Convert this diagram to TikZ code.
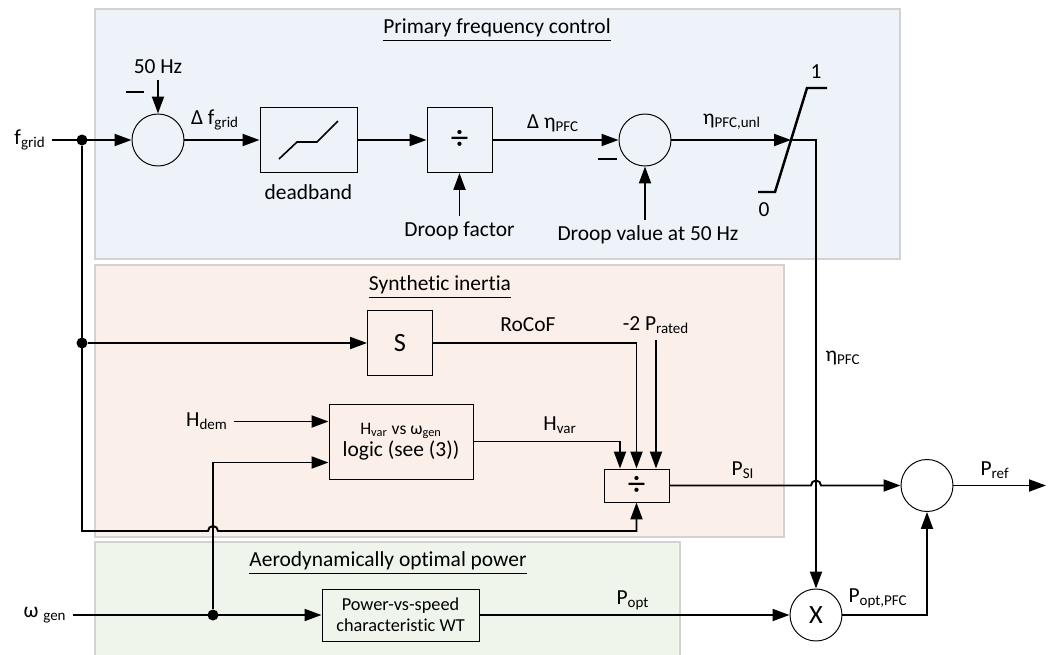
\documentclass[tikz,border=0pt]{standalone}
\usepackage{fontspec}
\setmainfont{Carlito}[Ligatures=CommonOff]
\usetikzlibrary{arrows.meta,positioning,calc}
\definecolor{pfcblue}{HTML}{EEF3FA}
\definecolor{sipink}{HTML}{FBEFEA}
\definecolor{aerogreen}{HTML}{EFF5EB}
\definecolor{panelgray}{HTML}{D2D2D2}

\begin{document}
\begin{tikzpicture}[
  font=\fontsize{12.2}{14}\selectfont,
  panel/.style={draw=panelgray,line width=.8pt},
  block/.style={draw,line width=.55pt,minimum width=1.3cm,minimum height=1.3cm,inner sep=2pt,align=center},
  sumnode/.style={draw,circle,line width=.55pt,minimum size=1.04cm,inner sep=0pt},
  flow/.style={-{Triangle[length=3.4mm,width=2.4mm]},line width=1.1pt},
  dot/.style={circle,fill,inner sep=0pt,minimum size=2.2mm},
  sign/.style={line width=1.6pt},
  big/.style={font=\fontsize{15}{16}\selectfont},
  divsign/.style={font=\fontsize{20}{20}\selectfont}]
  \useasboundingbox (0,0) rectangle (21.06,-13.10);
  \draw[panel,fill=pfcblue] (1.90,-0.18) rectangle (18.00,-5.18);
  \draw[panel,fill=sipink] (1.90,-5.30) rectangle (15.68,-10.74);
  \draw[panel,fill=aerogreen] (1.90,-10.84) rectangle (13.60,-13.40);
  \node (pfctitle) at (9.94,-0.60) {\underline{Primary frequency control}};
  \node (sititle) at (8.80,-5.74) {\underline{Synthetic inertia}};
  \node (aerotitle) at (7.76,-11.26) {\underline{Aerodynamically optimal power}};

  \node (fgrid) at (0.60,-2.80) {f\textsubscript{grid}};
  \node[dot] (j1) at (1.64,-2.80) {};
  \node[sumnode] (sum1) at (3.16,-2.80) {};
  \node (fref) at (3.16,-1.34) {50 Hz};
  \node (dfgrid) at (4.30,-2.40) {Δ f\textsubscript{grid}};
  \node[block,minimum width=1.94cm] (deadband) at (6.17,-2.80) {};
  \node (dblabel) at (6.17,-3.84) {deadband};
  \node[block,divsign] (droopdiv) at (9.19,-2.80) {÷};
  \node (droopfac) at (9.19,-4.62) {Droop factor};
  \node (deta) at (11.06,-2.46) {Δ η\textsubscript{PFC}};
  \node[sumnode] (sum2) at (12.90,-2.80) {};
  \node (droop50) at (12.96,-4.70) {Droop value at 50 Hz};
  \node (etaunl) at (14.64,-2.44) {η\textsubscript{PFC,unl}};
  \coordinate (sat) at (15.82,-2.80);
  \node (satone) at (16.32,-1.44) {1};
  \node (satzero) at (15.28,-4.20) {0};
  \node (etapfc) at (16.86,-7.16) {η\textsubscript{PFC}};

  \draw[sign] (2.52,-1.84) -- (2.88,-1.84);
  \draw[sign] (11.96,-3.18) -- (12.34,-3.18);
  \draw[line width=.9pt] ($(deadband.center)+(-0.59,-0.38)$) -- ++(0.36,0.34) -- ++(0.40,0) -- ++(0.42,0.42);
  \draw[line width=1.4pt] (15.16,-3.84) -- (15.50,-3.84) -- (16.14,-1.76) -- (16.54,-1.76);

  \draw[flow] (fgrid) -- (sum1);
  \draw[flow] (fref) -- (sum1);
  \draw[flow] (sum1) -- (deadband);
  \draw[flow] (deadband) -- (droopdiv);
  \draw[flow] (droopfac) -- (droopdiv);
  \draw[flow] (droopdiv) -- (sum2);
  \draw[flow] (sum2 |- droop50.north) -- (sum2);
  \draw[flow] (sum2) -- (sat);

  \node[dot] (j2) at (1.64,-6.86) {};
  \node[block,big] (deriv) at (8.00,-6.86) {S};
  \node (rocof) at (10.56,-6.50) {RoCoF};
  \node (prated) at (13.12,-6.50) {-2 P\textsubscript{rated}};
  \node[block,minimum width=2.88cm,minimum height=1.5cm,font=\fontsize{12.2}{12.5}\selectfont] (logic) at (8.02,-8.83)
    {{\fontsize{10}{12}\selectfont H\textsubscript{var} vs ω\textsubscript{gen}}\\logic (see (3))};
  \node (hdem) at (4.14,-8.43) {H\textsubscript{dem}};
  \node (hvar) at (11.20,-8.50) {H\textsubscript{var}};
  \node[block,divsign,minimum height=0.66cm,inner sep=0pt] (sidiv) at (12.73,-9.71) {÷};
  \node (psi) at (14.86,-9.40) {P\textsubscript{SI}};
  \node[sumnode] (sum3) at (18.54,-9.71) {};
  \node (pref) at (19.90,-9.40) {P\textsubscript{ref}};
  \coordinate (prefend) at (20.92,-9.71);
  \coordinate (fbcorner) at (1.64,-10.62);
  \coordinate (hop1) at (4.26,-10.62);
  \coordinate (hop2) at (16.32,-9.71);

  \node (wgen) at (0.90,-12.30) {ω \textsubscript{gen}};
  \node[dot] (j3) at (4.26,-12.30) {};
  \node[block,minimum width=3.14cm,minimum height=1.04cm,font=\fontsize{10.4}{12}\selectfont] (pvs) at (8.01,-12.30)
    {Power-vs-speed\\characteristic WT};
  \node (popt) at (12.66,-12.00) {P\textsubscript{opt}};
  \node[sumnode,big] (mult) at (16.32,-12.30) {X};
  \node (poptpfc) at (17.56,-11.96) {P\textsubscript{opt,PFC}};

  \draw[flow] (sat) -| (mult);
  \draw[flow] (j2) -- (deriv);
  \draw[flow] (deriv.east) -| (sidiv.north);
  \draw[flow] (logic.east) -| ([xshift=-0.33cm]sidiv.north);
  \draw[flow] (prated.south) -- (prated.south |- sidiv.north);
  \draw[flow] (hdem) -- (hdem -| logic.west);
  \draw[flow] (j1) -- (fbcorner) -- ([xshift=-0.1cm]hop1) arc[start angle=180,end angle=0,radius=0.1cm] -| (sidiv.south);
  \draw[flow] (sidiv) -- ([xshift=-0.1cm]hop2) arc[start angle=180,end angle=0,radius=0.1cm] -- (sum3);
  \draw[flow] (sum3) -- (prefend);
  \draw[flow] (wgen) -- (pvs);
  \draw[flow] (j3) |- ([yshift=-0.42cm]logic.west);
  \draw[flow] (pvs) -- (mult);
  \draw[flow] (mult) -| (sum3);
\end{tikzpicture}
\end{document}
